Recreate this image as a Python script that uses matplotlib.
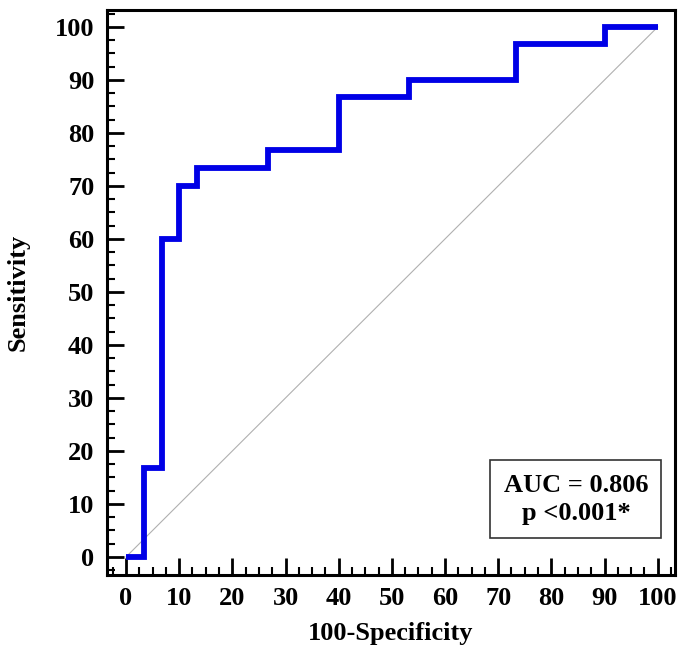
import matplotlib

matplotlib.use("Agg")
import matplotlib.pyplot as plt
from matplotlib.ticker import MultipleLocator

# ROC step curve (100-specificity, sensitivity)
fpr = [0, 3.3, 3.3, 6.7, 6.7, 10, 10, 13.3, 13.3, 26.7, 26.7, 40, 40,
       53.3, 53.3, 73.3, 73.3, 90, 90, 100]
tpr = [0, 0, 16.7, 16.7, 60, 60, 70, 70, 73.3, 73.3, 76.7, 76.7, 86.7,
       86.7, 90, 90, 96.7, 96.7, 100, 100]
diag = [0, 100]
auc_text = "AUC = 0.806\np <0.001*"

plt.rcParams["font.family"] = ["Liberation Serif", "DejaVu Serif"]
plt.rcParams["font.weight"] = "bold"

fig = plt.figure(figsize=(6.85, 6.56), dpi=100)
ax = fig.add_axes([0.156, 0.1235, 0.829, 0.8613])

ax.plot(diag, diag, color="#b0b0b0", linewidth=0.8, zorder=1)
ax.plot(fpr, tpr, color="#0000e6", linewidth=4.2, solid_joinstyle="miter",
        solid_capstyle="butt", zorder=2)

ax.set_xlim(-3.6, 103.2)
ax.set_ylim(-3.4, 103.2)
ax.xaxis.set_major_locator(MultipleLocator(10))
ax.yaxis.set_major_locator(MultipleLocator(10))
ax.xaxis.set_minor_locator(MultipleLocator(2.5))
ax.yaxis.set_minor_locator(MultipleLocator(2.5))
ax.tick_params(which="major", direction="in", length=12, width=2,
               labelsize=19, pad=9)
ax.tick_params(which="minor", direction="in", length=6, width=1.5)
for s in ax.spines.values():
    s.set_linewidth(2.2)

ax.set_xlabel("100-Specificity", fontsize=19, fontweight="bold", labelpad=8)
ax.set_ylabel("Sensitivity", fontsize=19, fontweight="bold", labelpad=18)

ax.text(0.826, 0.134, auc_text, transform=ax.transAxes, ha="center",
        va="center", fontsize=19, fontweight="bold", linespacing=1.3,
        bbox=dict(boxstyle="square,pad=0.5", facecolor="white",
                  edgecolor="#333333", linewidth=1.2))

fig.savefig("out.png", dpi=100)
